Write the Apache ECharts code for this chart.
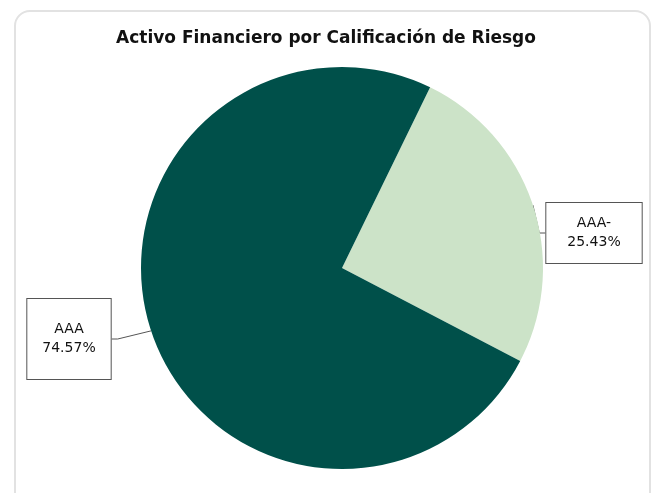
<!DOCTYPE html>
<html>
<head>
<meta charset="utf-8">
<script src="https://cdn.jsdelivr.net/npm/echarts@6/dist/echarts.min.js"></script>
<style>
  html, body { margin: 0; padding: 0; background: #fff; }
  #card {
    position: absolute; left: 14px; top: 10px; width: 637px; height: 500px;
    border: 2px solid #e2e2e2; border-radius: 16px; box-sizing: border-box;
  }
  #chart { position: absolute; left: 0; top: 0; width: 652px; height: 493px; }
</style>
</head>
<body>
<div id="card"></div>
<div id="chart"></div>
<script>
// ---- datos ----
const categories = ['AAA-', 'AAA'];
const values = [25.43, 74.57];
const colors = ['#cce3c8', '#00504a'];
// centros de las cajas de etiqueta (px)
const labelCenters = [[594, 233], [69, 339]];

const chart = echarts.init(document.getElementById('chart'));

chart.setOption({
    animation: false,
    title: {
        text: 'Activo Financiero por Calificación de Riesgo',
        left: 'center',
        top: 25,
        textStyle: { fontFamily: 'DejaVu Sans', fontSize: 17, fontWeight: 'bold', color: '#111' }
    },
    series: [{
        type: 'pie',
        center: [342, 268],
        radius: 201,
        startAngle: 64,
        clockwise: true,
        data: categories.map((c, i) => ({
            name: c,
            value: values[i],
            itemStyle: { color: colors[i] },
            label: i === 0 ? { padding: [11, 21] } : { padding: [21, 15] }
        })),
        label: {
            show: true,
            position: 'outside',
            formatter: p => p.name + '\n' + p.value.toFixed(2) + '%',
            fontFamily: 'DejaVu Sans',
            fontSize: 14,
            lineHeight: 19,
            color: '#111',
            align: 'center',
            overflow: 'none',
            bleedMargin: 0,
            backgroundColor: '#fff',
            borderColor: '#555',
            borderWidth: 1
        },
        labelLine: {
            show: true,
            length: 8,
            length2: 6,
            lineStyle: { color: '#555', width: 1 }
        },
        labelLayout: params => ({
            x: labelCenters[params.dataIndex][0],
            y: labelCenters[params.dataIndex][1],
            align: 'center',
            verticalAlign: 'middle'
        })
    }]
});
</script>
</body>
</html>
